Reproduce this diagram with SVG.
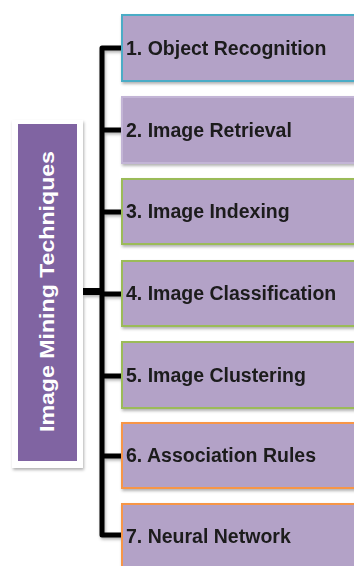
<svg xmlns="http://www.w3.org/2000/svg" width="354" height="566" viewBox="0 0 354 566">
<style>
.box{fill:#B3A2C7;stroke-width:2}
.lbl{font-family:"Liberation Sans",Arial,sans-serif;font-weight:bold;font-size:19.5px;fill:#1a1a1a}
.title{font-family:"Liberation Sans",Arial,sans-serif;font-weight:bold;font-size:20px;fill:#ffffff}
.conn{fill:none;stroke:#000;stroke-width:5;stroke-linejoin:round}
</style>
<defs>
<filter id="sh" x="-10%" y="-10%" width="120%" height="130%">
<feDropShadow dx="1" dy="2" stdDeviation="1.5" flood-color="#000" flood-opacity="0.3"/>
</filter>
</defs>
<rect width="354" height="566" fill="#ffffff"/>
<g id="connectors" filter="url(#sh)">
<path class="conn" d="M122,48 H102 V535 H122"/>
<path class="conn" d="M102,130 H122 M102,212 H122 M102,294 H122 M102,376 H122 M102,456 H122"/>
<rect x="83" y="288" width="19" height="7" fill="#000"/>
</g>
<g id="title">
<rect x="12" y="120" width="71" height="348" fill="#ffffff" filter="url(#sh)"/>
<rect x="18" y="124" width="59" height="337" fill="#8064A2"/>
<text class="title" transform="translate(54,291.5) rotate(-90)" text-anchor="middle" textLength="281" lengthAdjust="spacingAndGlyphs">Image Mining  Techniques</text>
</g>
<g id="n1" filter="url(#sh)"><rect class="box" x="122" y="15" width="240" height="66" stroke="#4BACC6"/><text class="lbl" x="126" y="55">1. Object Recognition</text></g>
<g id="n2" filter="url(#sh)"><rect class="box" x="122" y="97" width="240" height="66" stroke="#C3B5D6"/><text class="lbl" x="126" y="137">2. Image Retrieval</text></g>
<g id="n3" filter="url(#sh)"><rect class="box" x="122" y="179" width="240" height="65" stroke="#9BBB59"/><text class="lbl" x="126" y="218">3. Image Indexing</text></g>
<g id="n4" filter="url(#sh)"><rect class="box" x="122" y="261" width="240" height="65" stroke="#9BBB59"/><text class="lbl" x="126" y="300">4. Image Classification</text></g>
<g id="n5" filter="url(#sh)"><rect class="box" x="122" y="342" width="240" height="66" stroke="#9BBB59"/><text class="lbl" x="126" y="382">5. Image Clustering</text></g>
<g id="n6" filter="url(#sh)"><rect class="box" x="122" y="423" width="240" height="65" stroke="#F79646"/><text class="lbl" x="126" y="462">6. Association Rules</text></g>
<g id="n7" filter="url(#sh)"><rect class="box" x="122" y="504" width="240" height="66" stroke="#F79646"/><text class="lbl" x="126" y="543">7. Neural Network</text></g>
</svg>
